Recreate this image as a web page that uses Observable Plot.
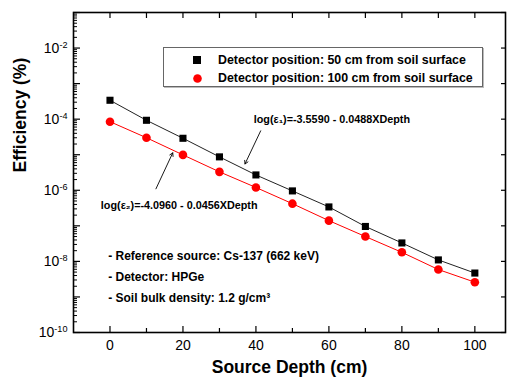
<!DOCTYPE html>
<html><head><meta charset="utf-8">
<script src="https://cdn.jsdelivr.net/npm/d3@7"></script>
<script src="https://cdn.jsdelivr.net/npm/@observablehq/plot@0.6"></script>
<style>
body{margin:0;background:#fff;}
#wrap{position:relative;width:507px;height:382px;font-family:"Liberation Sans",Arial,sans-serif;}
#legend{position:absolute;left:163px;top:47px;width:318px;height:38px;border:1px solid #666;background:#fff;box-shadow:1px 1px 0 #bbb;font-weight:bold;font-size:12.4px;color:#000;}
#legend .t{position:absolute;left:54px;line-height:14px;white-space:nowrap;}
#legend .m{position:absolute;}
</style></head><body><div id="wrap"></div>
<script>
const depths = [0, 10, 20, 30, 40, 50, 60, 70, 80, 90, 100];
const eff50cm = [3.4e-4, 9.3e-5, 2.9e-5, 8.7e-6, 2.7e-6, 9.6e-7, 3.4e-7, 9.6e-8, 3.3e-8, 1.1e-8, 4.7e-9];
const eff100cm = [8.5e-5, 3.0e-5, 9.9e-6, 3.3e-6, 1.2e-6, 4.2e-7, 1.4e-7, 5.0e-8, 1.8e-8, 5.9e-9, 2.6e-9];
const seriesNames = ["Detector position: 50 cm from soil surface", "Detector position: 100 cm from soil surface"];
const xTickLabels = [0, 20, 40, 60, 80, 100];
const xMinorTicks = [10, 30, 50, 70, 90];
const yLabelTicks = [1e-10, 1e-8, 1e-6, 1e-4, 1e-2];
const yDecadeTicks = [1e-10, 1e-9, 1e-8, 1e-7, 1e-6, 1e-5, 1e-4, 1e-3, 1e-2, 1e-1];
const yMinorTicks = [];
for (let e = -10; e <= -2; e++) for (let k = 2; k <= 9; k++) yMinorTicks.push(k * Math.pow(10, e));

const eqLabels = [
  {x: 39.4, y: 9.5e-5, text: "log(ε₁)=-3.5590 - 0.0488XDepth"},
  {x: -2.5, y: 3.67e-7, text: "log(ε₂)=-4.0960 - 0.0456XDepth"}
];
const eqArrows = [
  {x1: 41.3, y1: 4.7e-5, x2: 37.0, y2: 5.5e-6},
  {x1: 12.6, y1: 1.1e-6, x2: 17.2, y2: 1.13e-5}
];
const notes = [
  {x: -0.5, y: 1.36e-8, text: "- Reference source: Cs-137 (662 keV)"},
  {x: -0.5, y: 3.5e-9, text: "- Detector: HPGe"},
  {x: -0.5, y: 9.0e-10, text: "- Soil bulk density: 1.2 g/cm³"}
];

const d50 = depths.map((d, i) => ({depth: d, eff: eff50cm[i]}));
const d100 = depths.map((d, i) => ({depth: d, eff: eff100cm[i]}));
const blank = () => "";

const plot = Plot.plot({
  width: 507, height: 382,
  marginLeft: 73, marginRight: 2, marginTop: 12, marginBottom: 50,
  style: {fontFamily: "'Liberation Sans', Arial, sans-serif", background: "white", color: "black", overflow: "visible"},
  x: {domain: [-10, 108.4]},
  y: {type: "log", domain: [1e-10, 1e-1]},
  marks: [
    Plot.line(d50, {x: "depth", y: "eff", stroke: "#222", strokeWidth: 1}),
    Plot.line(d100, {x: "depth", y: "eff", stroke: "#ff0000", strokeWidth: 1}),
    Plot.dot(d50, {x: "depth", y: "eff", symbol: "square", r: 4, fill: "black", stroke: "none"}),
    Plot.dot(d100, {x: "depth", y: "eff", symbol: "circle", r: 4.3, fill: "#ff0000", stroke: "none"}),
    Plot.arrow(eqArrows, {x1: "x1", y1: "y1", x2: "x2", y2: "y2", stroke: "black", strokeWidth: 0.9, headLength: 6}),
    Plot.text(eqLabels, {x: "x", y: "y", text: "text", textAnchor: "start", fontSize: 10.8, fontWeight: "bold"}),
    Plot.text(notes, {x: "x", y: "y", text: "text", textAnchor: "start", fontSize: 12, fontWeight: "bold"}),
    Plot.axisX(xTickLabels, {anchor: "bottom", tickSize: -6, tickFormat: blank, label: null, strokeWidth: 1.2}),
    Plot.axisX(xMinorTicks, {anchor: "bottom", tickSize: -4, tickFormat: blank, label: null, strokeWidth: 1.2}),
    Plot.axisX(xTickLabels.concat(xMinorTicks), {anchor: "top", tickSize: -5, tickFormat: blank, label: null, strokeWidth: 1.2}),
    Plot.axisY(yDecadeTicks, {anchor: "left", tickSize: -7, tickFormat: blank, label: null, strokeWidth: 1.2}),
    Plot.axisY(yMinorTicks, {anchor: "left", tickSize: -4, tickFormat: blank, label: null, strokeWidth: 1}),
    Plot.axisY(yDecadeTicks, {anchor: "right", tickSize: -5, tickFormat: blank, label: null, strokeWidth: 1.2}),
    Plot.axisX(xTickLabels, {anchor: "bottom", tickSize: 0, tickPadding: 8, fontSize: 14, label: null}),
    Plot.axisY(yLabelTicks, {anchor: "left", tickSize: 0, tickPadding: 6, fontSize: 14, label: null,
      tickFormat: d => "10^" + Math.round(Math.log10(d))}),
    Plot.text(["Source Depth (cm)"], {frameAnchor: "bottom", dy: 40, fontSize: 17.5, fontWeight: "bold"}),
    Plot.text(["Efficiency (%)"], {frameAnchor: "left", dx: -53, rotate: -90, fontSize: 17.5, fontWeight: "bold"}),
    Plot.frame({stroke: "black", strokeWidth: 1.6})
  ]
});

d3.select(plot).selectAll("text").each(function() {
  const t = d3.select(this);
  const s = t.text();
  const m = /^10\^(-?\d+)$/.exec(s);
  if (m) {
    t.text("");
    t.append("tspan").text("10");
    t.append("tspan").attr("dy", "-0.55em").attr("font-size", "0.65em").text(m[1]);
  }
});

const wrap = document.getElementById("wrap");
wrap.appendChild(plot);

const legend = document.createElement("div");
legend.id = "legend";
legend.innerHTML =
  `<svg class="m" style="left:29px;top:8px" width="8" height="8"><rect width="8" height="8" fill="black"/></svg>` +
  `<div class="t" style="top:5px">${seriesNames[0]}</div>` +
  `<svg class="m" style="left:28.5px;top:25.5px" width="9" height="9"><circle cx="4.5" cy="4.5" r="4.3" fill="#ff0000"/></svg>` +
  `<div class="t" style="top:23px">${seriesNames[1]}</div>`;
wrap.appendChild(legend);
</script>
</body></html>
